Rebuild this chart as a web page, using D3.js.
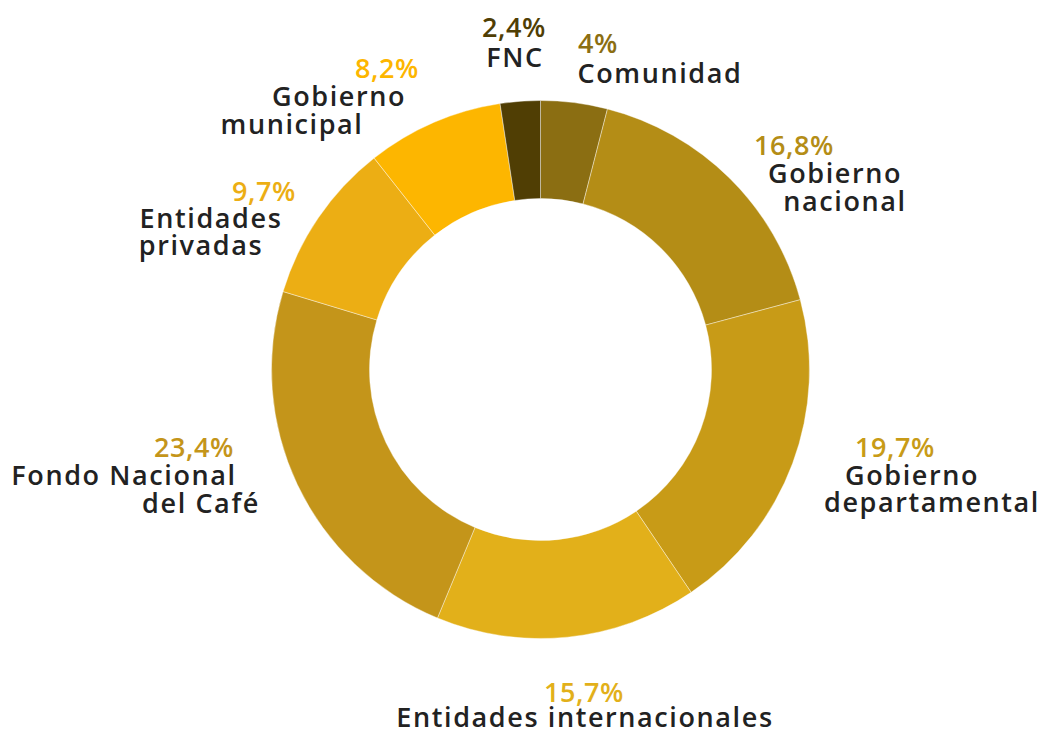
<!DOCTYPE html>
<html>
<head>
<meta charset="utf-8">
<script src="https://cdn.jsdelivr.net/npm/d3@7"></script>
<style>
  html, body { margin: 0; padding: 0; background: #ffffff; }
  svg { display: block; }
  text { font-family: "Open Sans", "DejaVu Sans", sans-serif; font-weight: 600; }
</style>
</head>
<body>
<svg id="chart" width="1042" height="731"></svg>
<script>
// Funding sources, clockwise from 12 o'clock
const categories = ["Comunidad", "Gobierno nacional", "Gobierno departamental",
  "Entidades internacionales", "Fondo Nacional del Café", "Entidades privadas",
  "Gobierno municipal", "FNC"];
const values = [4, 16.8, 19.7, 15.7, 23.4, 9.7, 8.2, 2.4];
const valueLabels = ["4%", "16,8%", "19,7%", "15,7%", "23,4%", "9,7%", "8,2%", "2,4%"];
const nameLines = [
  ["Comunidad"],
  ["Gobierno", "nacional"],
  ["Gobierno", "departamental"],
  ["Entidades internacionales"],
  ["Fondo Nacional", "del Café"],
  ["Entidades", "privadas"],
  ["Gobierno", "municipal"],
  ["FNC"]
];
const colors = ["#8B6E12", "#B48D16", "#C89B17", "#E2B01A", "#C4951A", "#ECAE14", "#FDB600", "#503E04"];

// Label placement: centre x and baseline y for the percentage, then each name line
const labelLayout = [
  { pct: [598, 53],  lines: [[660, 83]] },
  { pct: [794, 155], lines: [[835, 183], [845, 211]] },
  { pct: [895, 457], lines: [[912, 485], [932, 512]] },
  { pct: [584, 702], lines: [[585, 727]] },
  { pct: [194, 457], lines: [[124, 485], [201, 513]] },
  { pct: [264, 201], lines: [[211, 228], [201, 255]] },
  { pct: [387, 78],  lines: [[339, 106], [292, 134]] },
  { pct: [514, 37],  lines: [[515, 67]] }
];

const svg = d3.select("#chart");
const cx = 540.5, cy = 369.5, outerR = 269, innerR = 171;

const data = categories.map((c, i) => ({ name: c, value: values[i], i }));
const pie = d3.pie().value(d => d.value).sort(null);
const arc = d3.arc().innerRadius(innerR).outerRadius(outerR);
const color = d3.scaleOrdinal().domain(categories).range(colors);

const g = svg.append("g").attr("transform", `translate(${cx},${cy})`);
g.selectAll("path")
  .data(pie(data))
  .join("path")
  .attr("d", arc)
  .attr("fill", d => color(d.data.name))
  .attr("stroke", "#ffffff")
  .attr("stroke-width", 0.4);

const labels = svg.append("g");
data.forEach((d, i) => {
  const lay = labelLayout[i];
  labels.append("text")
    .attr("x", lay.pct[0]).attr("y", lay.pct[1])
    .attr("text-anchor", "middle")
    .attr("font-size", 27)
    .attr("letter-spacing", 0.6)
    .attr("fill", color(d.name))
    .text(valueLabels[i]);
  nameLines[i].forEach((line, j) => {
    labels.append("text")
      .attr("x", lay.lines[j][0]).attr("y", lay.lines[j][1])
      .attr("text-anchor", "middle")
      .attr("font-size", 27)
      .attr("letter-spacing", 1.6)
      .attr("fill", "#222222")
      .text(line);
  });
});
</script>
</body>
</html>
